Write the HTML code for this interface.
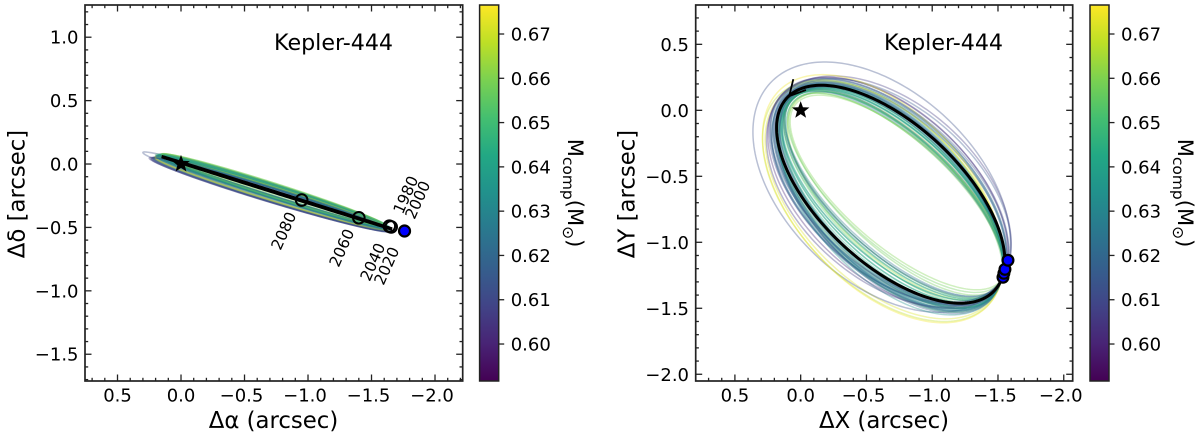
<!DOCTYPE html>
<html lang="en">
<head>
<meta charset="utf-8">
<title>Kepler-444 orbit fits</title>
<style>
html,body{margin:0;padding:0;background:#fff;width:1200px;height:434px;overflow:hidden}
svg{display:block}
text{font-family:"DejaVu Sans","Liberation Sans",sans-serif;fill:#000}
</style>
</head>
<body>
<svg id="figure" width="1200" height="434" viewBox="0 0 1200 434" xmlns="http://www.w3.org/2000/svg">
  <defs>
    <linearGradient id="viridis" x1="0" y1="1" x2="0" y2="0">
      <stop offset="0" stop-color="#440154"/><stop offset="0.1" stop-color="#482475"/>
      <stop offset="0.2" stop-color="#414487"/><stop offset="0.3" stop-color="#355f8d"/>
      <stop offset="0.4" stop-color="#2a788e"/><stop offset="0.5" stop-color="#21918c"/>
      <stop offset="0.6" stop-color="#22a884"/><stop offset="0.7" stop-color="#44bf70"/>
      <stop offset="0.8" stop-color="#7ad151"/><stop offset="0.9" stop-color="#bddf26"/>
      <stop offset="1" stop-color="#fde725"/>
    </linearGradient>
  </defs>
  <g id="sky-panel"></g>
  <g id="orbit-panel"></g>
  <g id="sky-bar"></g>
  <g id="orbit-bar"></g>

  <text x="274" y="50" font-size="22.2">Kepler-444</text>
  <text x="884" y="50" font-size="22.2">Kepler-444</text>
  <text x="273.5" y="428" font-size="22.8" text-anchor="middle">Δα (arcsec)</text>
  <text x="884" y="428" font-size="22.8" text-anchor="middle">ΔX (arcsec)</text>
  <text transform="translate(24.5,194) rotate(-90)" font-size="22.8" text-anchor="middle">Δδ [arcsec]</text>
  <text transform="translate(634.5,194) rotate(-90)" font-size="22.8" text-anchor="middle">ΔY [arcsec]</text>
  <text transform="translate(568,193) rotate(90)" font-size="21" text-anchor="middle">M<tspan font-size="15.5" dy="5">comp</tspan><tspan dy="-5">(M</tspan><tspan font-size="15.5" dy="5">⊙</tspan><tspan dy="-5">)</tspan></text>
  <text transform="translate(1178,193) rotate(90)" font-size="21" text-anchor="middle">M<tspan font-size="15.5" dy="5">comp</tspan><tspan dy="-5">(M</tspan><tspan font-size="15.5" dy="5">⊙</tspan><tspan dy="-5">)</tspan></text>
</svg>

<script>
// ---- Sampled companion orbits (one entry per orbit) ----
const orbitMass = [.652,.641,.618,.615,.664,.609,.62,.628,.625,.655,.672,.629,.644,.612,.611,.658,.621,.624,.634,.601,.643,.635,.627,.636,.615,.653,.647,.608,.618,.668,.623,.645,.606,.617,.657,.642,.619,.625,.64,.675,.628,.648,.613,.622,.66,.632];

// Deprojected-panel orbit extents, in arcsec
const orbitLeft = [.19,.14,.21,.17,.10,.24,.16,.12,.22,.13,.27,.18,.15,.363,.20,.09,.23,.14,.17,.25,.16,.11,.19,.15,.22,.12,.18,.16,.13,.29,.21,.15,.26,.18,.10,.14,.20,.12,.17,.29,.19,.13,.23,.16,.08,.18];
const orbitRight = [-1.542,-1.542,-1.565,-1.542,-1.541,-1.581,-1.542,-1.541,-1.56,-1.534,-1.543,-1.542,-1.541,-1.594,-1.539,-1.541,-1.568,-1.537,-1.542,-1.574,-1.542,-1.541,-1.544,-1.545,-1.60,-1.541,-1.54,-1.545,-1.547,-1.54,-1.544,-1.539,-1.60,-1.539,-1.549,-1.545,-1.565,-1.541,-1.54,-1.541,-1.54,-1.541,-1.581,-1.542,-1.562,-1.541];
const orbitTop = [.20,.16,.24,.19,.14,.25,.18,.15,.22,.16,.22,.20,.17,.366,.21,.13,.23,.17,.19,.25,.18,.14,.21,.17,.24,.15,.19,.18,.16,.23,.22,.17,.26,.20,.13,.16,.21,.145,.19,.27,.20,.15,.24,.18,.115,.19];
const orbitBottom = [-1.50,-1.46,-1.48,-1.50,-1.44,-1.47,-1.52,-1.42,-1.50,-1.46,-1.58,-1.49,-1.46,-1.53,-1.53,-1.40,-1.48,-1.50,-1.55,-1.50,-1.47,-1.43,-1.51,-1.44,-1.46,-1.42,-1.53,-1.48,-1.41,-1.60,-1.52,-1.49,-1.49,-1.54,-1.38,-1.44,-1.47,-1.41,-1.50,-1.61,-1.52,-1.43,-1.45,-1.48,-1.36,-1.51];
// Measured position every deprojected orbit passes through
const orbitAnchorX = [-1.525];
const orbitAnchorY = [-1.285];

// Sky-plane orbit extents and elongation
const skyLeft = [.20,.17,.22,.18,.15,.24,.19,.16,.21,.17,.20,.19,.18,.30,.20,.15,.22,.17,.19,.23,.18,.16,.20,.18,.22,.16,.19,.18,.17,.21,.20,.18,.25,.19,.15,.17,.21,.16,.19,.20,.19,.17,.23,.18,.15,.19];
const skyRight = [-1.62,-1.64,-1.61,-1.63,-1.60,-1.64,-1.62,-1.61,-1.63,-1.62,-1.65,-1.63,-1.64,-1.66,-1.61,-1.60,-1.63,-1.62,-1.64,-1.63,-1.61,-1.60,-1.64,-1.63,-1.65,-1.61,-1.62,-1.64,-1.62,-1.63,-1.64,-1.62,-1.65,-1.63,-1.60,-1.61,-1.64,-1.61,-1.63,-1.64,-1.62,-1.61,-1.64,-1.62,-1.60,-1.63];
const skyTop = [.078,.068,.052,.062,.082,.05,.066,.074,.055,.078,.062,.058,.072,.095,.064,.08,.054,.074,.062,.05,.07,.08,.058,.066,.048,.076,.072,.06,.068,.056,.056,.072,.052,.064,.08,.07,.05,.076,.068,.054,.058,.074,.046,.066,.08,.06];
const skyBottom = [-.492,-.505,-.528,-.512,-.488,-.532,-.508,-.496,-.522,-.492,-.516,-.518,-.5,-.54,-.51,-.486,-.526,-.496,-.51,-.53,-.502,-.488,-.52,-.508,-.53,-.49,-.498,-.515,-.506,-.52,-.524,-.498,-.532,-.51,-.488,-.502,-.528,-.492,-.506,-.522,-.518,-.496,-.53,-.508,-.486,-.514];
const skyElongation = [.982,.99,.98,.988,.988,.978,.992,.984,.982,.994,.986,.99,.985,.985,.995,.984,.981,.99,.987,.979,.991,.985,.983,.994,.979,.982,.988,.993,.984,.981,.989,.986,.98,.996,.98,.988,.98,.983,.992,.981,.99,.985,.978,.994,.98,.988];

// ---- Best-fit orbit ----
const bestOrbitExtent = [.183,-1.552,.19,-1.462];
const bestSkyExtent = [.15,-1.66,.058,-.512];
const bestSkyElongation = [.99995];
const tailX = [.056,.087,-.04];
const tailY = [.236,.108,.154];

// ---- Dated positions ----
const skyYears = [2080,2060,2040,2020];
const skyYearX = [-.95,-1.40,-1.64,-1.655];
const skyYearY = [-.284,-.424,-.49,-.496];
const skyNowX = [-1.76];
const skyNowY = [-.528];
const yearLabels = ['2080','2060','2040','2020','1980','2000'];
const yearLabelX = [-.811,-1.268,-1.512,-1.622,-1.772,-1.866];
const yearLabelY = [-.528,-.662,-.773,-.804,-.244,-.284];
const orbitDotX = [-1.538,-1.545,-1.553,-1.576];
const orbitDotY = [-1.265,-1.235,-1.205,-1.136];
const starX = [0];
const starY = [0];

// ---- Ticks ----
const xTickValues = [.5,0,-.5,-1,-1.5,-2];
const skyYTickValues = [1,.5,0,-.5,-1,-1.5];
const orbitYTickValues = [.5,0,-.5,-1,-1.5,-2];
const colorbarTicks = [.60,.61,.62,.63,.64,.65,.66,.67];

const NS = 'http://www.w3.org/2000/svg';
const VIRIDIS = ['#440154','#482475','#414487','#355f8d','#2a788e','#21918c','#22a884','#44bf70','#7ad151','#bddf26','#fde725'];
const massMin = 0.59165, massMax = 0.67655;

function make(parent, tag, attrs, text) {
  const el = document.createElementNS(NS, tag);
  for (const k in attrs) el.setAttribute(k, attrs[k]);
  if (text !== undefined) el.textContent = text;
  parent.appendChild(el);
  return el;
}
function scale(d0, d1, r0, r1) { return v => r0 + (v - d0) / (d1 - d0) * (r1 - r0); }
function massColor(m) {
  const f = Math.max(0, Math.min(1, (m - massMin) / (massMax - massMin))) * 10;
  const i = Math.min(9, Math.floor(f)), u = f - i;
  const hex = (s, p) => parseInt(s.substr(p, 2), 16);
  const a = VIRIDIS[i], b = VIRIDIS[i + 1];
  const ch = p => Math.round(hex(a, p) + (hex(b, p) - hex(a, p)) * u);
  return 'rgb(' + ch(1) + ',' + ch(3) + ',' + ch(5) + ')';
}
function fmt(v) { return (v < 0 ? '\u2212' : '') + Math.abs(v).toFixed(1); }

// Ellipse given bounding extents and X/Y phase shift
function ellipsePath(left, right, top, bottom, phi, sx, sy) {
  const cx = (left + right) / 2, ax = (left - right) / 2;
  const cy = (top + bottom) / 2, ay = (top - bottom) / 2;
  let d = '';
  for (let k = 0; k <= 240; k++) {
    const t = k / 240 * 2 * Math.PI;
    d += (k ? 'L' : 'M') + sx(cx + ax * Math.cos(t)).toFixed(2) + ' ' + sy(cy + ay * Math.cos(t - phi)).toFixed(2);
  }
  return d + 'Z';
}
// Phase shift that makes the ellipse pass through a measured point
function anchoredPhi(left, right, top, bottom, px, py) {
  const cx = (left + right) / 2, ax = (left - right) / 2;
  const cy = (top + bottom) / 2, ay = (top - bottom) / 2;
  const cl = v => Math.max(-1, Math.min(1, v));
  return Math.acos(cl(-(px - cx) / ax)) + Math.acos(cl(-(py - cy) / ay));
}
function starPoints(cx, cy, r) {
  const pts = [];
  for (let i = 0; i < 10; i++) {
    const rad = i % 2 ? r * 0.42 : r;
    const a = -Math.PI / 2 + i * Math.PI / 5;
    pts.push((cx + rad * Math.cos(a)).toFixed(2) + ',' + (cy + rad * Math.sin(a)).toFixed(2));
  }
  return pts.join(' ');
}

function drawAxes(g, box, sx, sy, xTicks, yTicks, labelRight) {
  const ticks = make(g, 'g', {stroke: '#222', 'stroke-width': 1.3, fill: 'none'});
  
  
  const minor = 3.2, major = 6.5;
  for (let i = -30; i <= 20; i++) {
    const v = i / 10, px = sx(v), py = sy(v), isMajor = i % 5 === 0;
    const len = isMajor ? major : minor;
    if (px > box.l + 0.5 && px < box.r - 0.5) {
      make(ticks, 'line', {x1: px, x2: px, y1: box.b, y2: box.b - len});
      make(ticks, 'line', {x1: px, x2: px, y1: box.t, y2: box.t + len});
    }
    if (py > box.t + 0.5 && py < box.b - 0.5) {
      make(ticks, 'line', {y1: py, y2: py, x1: box.l, x2: box.l + len});
      make(ticks, 'line', {y1: py, y2: py, x1: box.r, x2: box.r - len});
    }
  }
  const frame = make(g, 'rect', {x: box.l, y: box.t, width: box.r - box.l, height: box.b - box.t, fill: 'none', stroke: '#222', 'stroke-width': 1.7});
  
  
  xTicks.forEach(v => {
    const t = make(g, 'text', {x: sx(v) - (v < 0 ? 3 : 0), y: box.b + 20.5, 'font-size': 18, 'text-anchor': 'middle'}, fmt(v));
    
    
  });
  yTicks.forEach(v => {
    const t = make(g, 'text', {x: labelRight, y: sy(v) + 6.5, 'font-size': 18, 'text-anchor': 'end'}, fmt(v));
    
    
  });
}

function drawColorbar(g, x0, x1) {
  const sm = scale(massMin, massMax, 381, 5);
  const bar = make(g, 'rect', {x: x0, y: 5, width: x1 - x0, height: 376, fill: 'url(#viridis)', stroke: '#222', 'stroke-width': 1.5});
  
  
  colorbarTicks.forEach(v => {
    const tick = make(g, 'line', {x1: x1, x2: x1 + 5.5, y1: sm(v), y2: sm(v), stroke: '#222', 'stroke-width': 1.3});
    
    
    const t = make(g, 'text', {x: x1 + 12, y: sm(v) + 6.5, 'font-size': 18}, v.toFixed(2));
    
    
  });
}

// ---- Left panel: sky plane ----
(function () {
  const g = document.getElementById('sky-panel');
  const box = {l: 85, r: 462.7, t: 5, b: 381};
  const sx = scale(.756, -2.218, box.l, box.r);
  const sy = scale(1.254, -1.711, box.t, box.b);
  const lines = make(g, 'g', {fill: 'none', 'stroke-width': 1.6, 'stroke-opacity': .36});
  
  
  orbitMass.forEach((m, i) => {
    const p = make(lines, 'path', {d: ellipsePath(skyLeft[i], skyRight[i], skyTop[i], skyBottom[i], Math.acos(skyElongation[i]), sx, sy), stroke: massColor(m)});
    
    
  });
  const best = make(g, 'path', {d: ellipsePath(bestSkyExtent[0], bestSkyExtent[1], bestSkyExtent[2], bestSkyExtent[3], Math.acos(bestSkyElongation[0]), sx, sy), fill: 'none', stroke: '#000', 'stroke-width': 3.3});
  
  
  skyYears.forEach((y, i) => {
    const c = make(g, 'circle', {cx: sx(skyYearX[i]), cy: sy(skyYearY[i]), r: 5.8, fill: 'none', stroke: '#000', 'stroke-width': 2});
    
    
  });
  const now = make(g, 'circle', {cx: sx(skyNowX[0]), cy: sy(skyNowY[0]), r: 5.5, fill: '#0000ff', stroke: '#000', 'stroke-width': 2.2});
  
  
  const star = make(g, 'polygon', {points: starPoints(sx(starX[0]), sy(starY[0]), 9.2), fill: '#000'});
  
  
  yearLabels.forEach((label, i) => {
    const px = sx(yearLabelX[i]), py = sy(yearLabelY[i]);
    const t = make(g, 'text', {transform: 'translate(' + px + ',' + py + ') rotate(-66)', 'font-size': 15.5, 'text-anchor': 'middle', 'dominant-baseline': 'central'}, label);
    
    
  });
  drawAxes(g, box, sx, sy, xTickValues, skyYTickValues, 78.5);
})();

// ---- Right panel: deprojected orbit ----
(function () {
  const g = document.getElementById('orbit-panel');
  const box = {l: 695.7, r: 1072.7, t: 5, b: 381};
  const sx = scale(.798, -2.068, box.l, box.r);
  const sy = scale(.798, -2.051, box.t, box.b);
  const lines = make(g, 'g', {fill: 'none', 'stroke-width': 1.5, 'stroke-opacity': .36});
  
  
  orbitMass.forEach((m, i) => {
    const phi = anchoredPhi(orbitLeft[i], orbitRight[i], orbitTop[i], orbitBottom[i], orbitAnchorX[0], orbitAnchorY[0]);
    const p = make(lines, 'path', {d: ellipsePath(orbitLeft[i], orbitRight[i], orbitTop[i], orbitBottom[i], phi, sx, sy), stroke: massColor(m)});
    
    
  });
  const e = bestOrbitExtent;
  const best = make(g, 'path', {d: ellipsePath(e[0], e[1], e[2], e[3], anchoredPhi(e[0], e[1], e[2], e[3], orbitAnchorX[0], orbitAnchorY[0]), sx, sy), fill: 'none', stroke: '#000', 'stroke-width': 3});
  
  
  const tail = make(g, 'polyline', {points: tailX.map((v, i) => sx(v) + ',' + sy(tailY[i])).join(' '), fill: 'none', stroke: '#000', 'stroke-width': 1.8});
  
  
  orbitDotX.forEach((v, i) => {
    const c = make(g, 'circle', {cx: sx(v), cy: sy(orbitDotY[i]), r: 5.4, fill: '#0000ff', stroke: '#000', 'stroke-width': 2.2});
    
    
  });
  const star = make(g, 'polygon', {points: starPoints(sx(starX[0]), sy(starY[0]), 9.2), fill: '#000'});
  
  
  drawAxes(g, box, sx, sy, xTickValues, orbitYTickValues, 689);
})();

drawColorbar(document.getElementById('sky-bar'), 479.6, 498.7);
drawColorbar(document.getElementById('orbit-bar'), 1090, 1109);
</script>
</body>
</html>
